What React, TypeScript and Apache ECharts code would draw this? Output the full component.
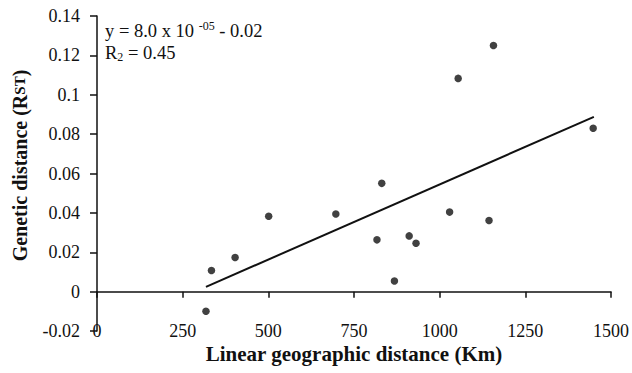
import React, { useEffect, useRef } from "react";
import * as echarts from "echarts";

const distanceKm = [318, 334, 403, 501, 697, 831, 817, 868, 911, 931, 1029, 1144, 1054, 1157, 1448];
const geneticRst = [-0.010, 0.0107, 0.0173, 0.0383, 0.0394, 0.055, 0.0263, 0.0054, 0.0283, 0.0246, 0.0404, 0.0361, 0.1083, 0.125, 0.083];
const trendX = [318, 1450];
const trendY = [0.0024, 0.0888];
const equationText = "y = 8.0 x 10";
const equationExp = "-05";
const equationTail = " - 0.02";
const r2Value = "0.45";

const FONT = "'Liberation Serif', 'Times New Roman', serif";

export default function App() {
  const ref = useRef<HTMLDivElement>(null);
  useEffect(() => {
    if (!ref.current) return;
    const chart = echarts.init(ref.current, null, { renderer: "svg" });
    const points = distanceKm.map((x, i) => [x, geneticRst[i]]);
    const trend = trendX.map((x, i) => [x, trendY[i]]);
    chart.setOption({
      animation: false,
      grid: { left: 97, right: 21, top: 16, bottom: 42, containLabel: false, outerBoundsMode: "none" },
      xAxis: {
        type: "value",
        min: 0,
        max: 1500,
        interval: 250,
        splitLine: { show: false },
        axisLine: { show: true, onZero: true, lineStyle: { color: "#111", width: 1.5 } },
        axisTick: { show: true, length: 6, lineStyle: { color: "#111", width: 1.5 } },
        axisLabel: { margin: -9, color: "#111", fontFamily: FONT, fontSize: 18, formatter: (v: number) => String(v) },
        name: "Linear geographic distance (Km)",
        nameLocation: "middle",
        nameGap: 12,
        nameMoveOverlap: false,
        nameTextStyle: { color: "#111", fontFamily: FONT, fontSize: 21, fontWeight: "bold" },
      },
      yAxis: {
        type: "value",
        min: -0.02,
        max: 0.14,
        interval: 0.02,
        splitLine: { show: false },
        axisLine: { show: true, onZero: false, lineStyle: { color: "#111", width: 1.5 } },
        axisTick: { show: true, length: 7, lineStyle: { color: "#111", width: 1.5 } },
        axisLabel: { margin: 17, color: "#111", fontFamily: FONT, fontSize: 18 },
        name: "{b|Genetic distance (R}{s|ST}{b|)}",
        nameLocation: "middle",
        nameGap: 67,
        nameTextStyle: {
          color: "#111",
          fontFamily: FONT,
          fontSize: 20,
          fontWeight: "bold",
          padding: [0, 0, 0, 16],
          rich: {
            b: { fontFamily: FONT, fontSize: 20, fontWeight: "bold", color: "#111" },
            s: { fontFamily: FONT, fontSize: 15, fontWeight: "bold", color: "#111" },
          },
        },
      },
      graphic: [
        {
          type: "text",
          left: 105,
          top: 20,
          style: {
            text: `{n|${equationText} }{e|${equationExp}}{n|${equationTail}}`,
            rich: {
              n: { fontFamily: FONT, fontSize: 18.5, fill: "#111", verticalAlign: "bottom" },
              e: { fontFamily: FONT, fontSize: 12, fill: "#111", verticalAlign: "top", padding: [0, 0, 8, 0] },
            },
          },
        },
        {
          type: "text",
          left: 105,
          top: 43,
          style: {
            text: `{n|R}{s|2}{n| = ${r2Value}}`,
            rich: {
              n: { fontFamily: FONT, fontSize: 18.5, fill: "#111" },
              s: { fontFamily: FONT, fontSize: 12, fill: "#111", padding: [9, 0, 0, 0] },
            },
          },
        },
      ],
      series: [
        {
          type: "scatter",
          data: points,
          symbol: "circle",
          symbolSize: 7.5,
          itemStyle: { color: "#111" },
          z: 3,
        },
        {
          type: "line",
          data: trend,
          showSymbol: false,
          symbol: "none",
          lineStyle: { color: "#111", width: 2 },
          z: 2,
        },
      ],
    });
    return () => chart.dispose();
  }, []);
  return <div ref={ref} style={{ width: 632, height: 373, position: "absolute", left: 0, top: 0 }} />;
}
